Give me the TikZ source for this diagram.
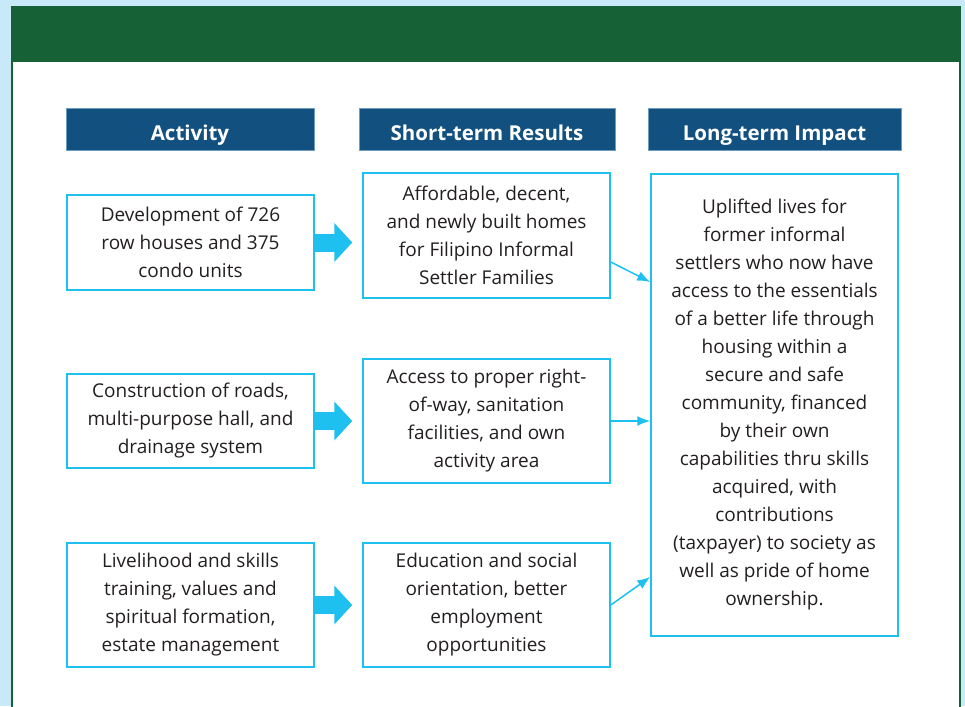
\documentclass[tikz,border=0pt]{standalone}
\usepackage{fontspec}
\setmainfont{Open Sans}
\usetikzlibrary{arrows.meta,positioning,calc}
\definecolor{skyback}{RGB}{199,233,248}
\definecolor{headgreen}{RGB}{23,97,54}
\definecolor{headblue}{RGB}{18,80,127}
\definecolor{edgeblue}{RGB}{110,155,192}
\definecolor{boxcyan}{RGB}{30,192,240}
\definecolor{inkgrey}{RGB}{35,31,32}

\begin{document}
\begin{tikzpicture}[x=1pt, y=-1pt,
  colhead/.style={draw=edgeblue, line width=1pt, fill=headblue, text=white,
    font=\bfseries\fontsize{20.5}{24}\selectfont, minimum height=42pt,
    text height=21pt, text depth=0pt, inner sep=0pt},
  textbox/.style={draw=boxcyan, line width=1.5pt, fill=white, align=center,
    text=inkgrey, font=\fontsize{19}{28}\selectfont, minimum width=247pt, inner sep=0pt},
  bigarrow/.style={boxcyan, line width=18pt, shorten >=10pt,
    -{Triangle[length=18pt, width=38pt]}},
  thinarrow/.style={boxcyan, line width=1.5pt, -{Latex[length=13pt, width=10pt]}}]

  % page, panel and green band
  \useasboundingbox (0,0) rectangle (965,706);
  \clip (0,0) rectangle (965,706);
  \fill[skyback] (0,0) rectangle (965,706);
  \draw[headgreen, line width=2pt, fill=white] (12,7) rectangle (960,730);
  \fill[headgreen] (11,6) rectangle (961,62);

  % column headers
  \node[colhead, minimum width=248pt] (hdrAct) at (190,129.5) {Activity};
  \node[colhead, minimum width=256pt] (hdrRes) at (487,129.5) {Short-term Results};
  \node[colhead, minimum width=253pt] (hdrImp) at (774.5,129.5) {Long-term Impact};

  % activities
  \node[textbox, minimum height=95pt] (act1) at (190.5,242.5)
    {Development of 726\\row houses and 375\\condo units};
  \node[textbox, minimum height=94pt] (act2) at (190.5,421)
    {Construction of roads,\\multi-purpose hall, and\\drainage system};
  \node[textbox, minimum height=124pt] (act3) at (190.5,605)
    {Livelihood and skills\\training, values and\\spiritual formation,\\estate management};

  % short-term results
  \node[textbox, minimum height=125pt] (res1) at (486.5,235.5)
    {Affordable, decent,\\and newly built homes\\for Filipino Informal\\Settler Families};
  \node[textbox, minimum height=124pt] (res2) at (486.5,421)
    {Access to proper right-\\of-way, sanitation\\facilities, and own\\activity area};
  \node[textbox, minimum height=124pt] (res3) at (486.5,605)
    {Education and social\\orientation, better\\employment\\opportunities};

  % long-term impact
  \node[textbox, minimum height=462pt] (impact) at (774.5,405)
    {Uplifted lives for\\former informal\\settlers who now have\\access to the essentials\\of a better life through\\housing within a\\secure and safe\\community, financed\\by their own\\capabilities thru skills\\acquired, with\\contributions\\(taxpayer) to society as\\well as pride of home\\ownership.};

  % arrows
  \draw[bigarrow] (act1.east) -- (act1.east -| res1.west);
  \draw[bigarrow] (act2.east) -- (act2.east -| res2.west);
  \draw[bigarrow] (act3.east) -- (act3.east -| res3.west);
  \draw[thinarrow] ([yshift=-26.5pt]res1.east) -- ([yshift=123pt]impact.west);
  \draw[thinarrow] (res2.east) -- (impact.west |- res2.east);
  \draw[thinarrow] (res3.east) -- ([yshift=-172pt]impact.west);
\end{tikzpicture}
\end{document}
